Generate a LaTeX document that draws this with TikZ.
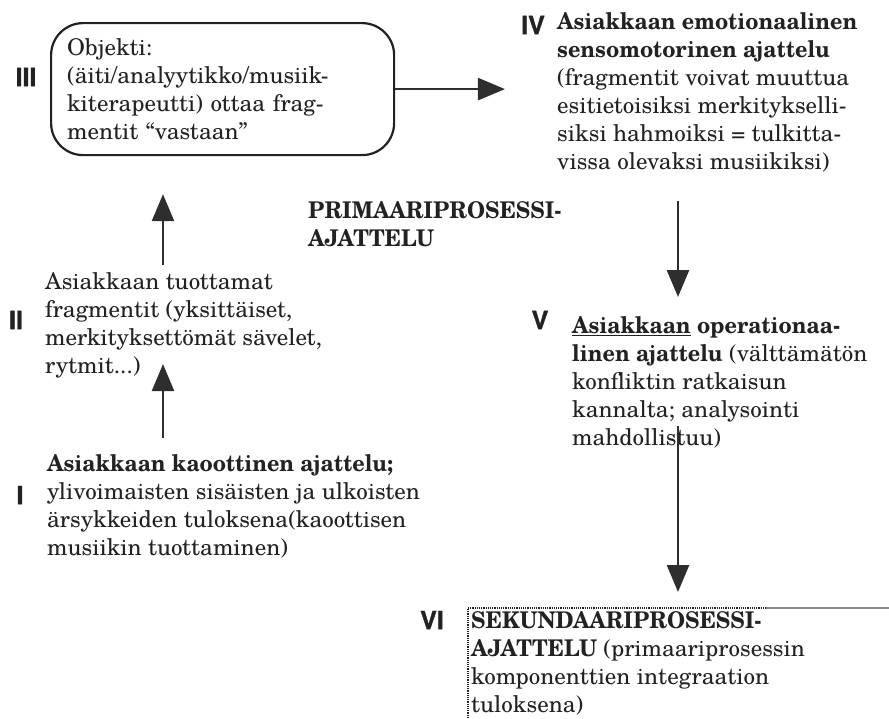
\documentclass[tikz,border=0pt]{standalone}
\usepackage{fontspec}
\setmainfont{texgyreschola}[Extension=.otf, UprightFont=*-regular, BoldFont=*-bold,
  ItalicFont=*-italic, BoldItalicFont=*-bolditalic, BoldFeatures={FakeStretch=0.94}]
\newfontfamily\numfont{texgyreheros-bold.otf}[FakeBold=1.2]
\usetikzlibrary{arrows.meta}
\definecolor{ink}{HTML}{222222}
\definecolor{shaft}{HTML}{2E2E2E}
\definecolor{rulegrey}{HTML}{8A8A8A}

\begin{document}
\begin{tikzpicture}[x=1pt,y=-1pt,
  txt/.style={anchor=north west, inner sep=0pt, align=left, text=ink,
    font=\fontsize{23}{28}\selectfont},
  num/.style={inner sep=0pt, text=ink, font=\numfont\fontsize{25}{25}\selectfont},
  flow/.style={draw=shaft, line width=2.6pt, -{Triangle[length=27pt,width=22pt]}},
  objbox/.style={draw=ink, line width=2.2pt, rounded corners=32pt, anchor=north west,
    align=left, text=ink, font=\fontsize{23}{28}\selectfont,
    minimum width=343pt, minimum height=132pt, inner xsep=16pt, text width=311pt},
  vibord/.style={draw=ink, line width=1.6pt, dash pattern=on 1.2pt off 1pt}]
\useasboundingbox (0,0) rectangle (889,718);

% column guides for the vertical arrows
\coordinate (colL) at (163,0);
\coordinate (colR) at (678,0);

% stage numerals
\node[num] (n1) at (20,495) {I};
\node[num] (n2) at (16,320) {II};
\node[num] (n3) at (26,77) {III};
\node[num] (n4) at (533,25) {IV};
\node[num] (n5) at (540,320) {V};
\node[num] (n6) at (432,620) {VI};

% stage III: the object box
\node[objbox] (obj) at (50,22) {Objekti:\\(äiti/analyytikko/musiik-\\kiterapeutti) ottaa frag-\\mentit “vastaan”};

% stage IV
\node[txt] (iv) at (557,12) {\textbf{Asiakkaan emotionaalinen}\\\textbf{sensomotorinen ajattelu}\\(fragmentit voivat muuttua\\esitietoisiksi merkitykselli-\\siksi hahmoiksi = tulkitta-\\vissa olevaksi musiikiksi)};

% middle heading
\node[txt, font=\bfseries\fontsize{23}{28}\selectfont] (prim) at (308,201) {PRIMAARIPROSESSI-\\AJATTELU};

% stage V
\node[txt] (v) at (572,316) {\textbf{\underline{Asiakkaan} operationaa-}\\\textbf{linen ajattelu} (välttämätön\\konfliktin ratkaisun\\kannalta; analysointi\\mahdollistuu)};

% stage II
\node[txt] (ii) at (45,272) {Asiakkaan tuottamat\\fragmentit (yksittäiset,\\merkityksettömät sävelet,\\rytmit...)};

% stage I
\node[txt] (i) at (47,454) {\textbf{Asiakkaan kaoottinen ajattelu;}\\ylivoimaisten sisäisten ja ulkoisten\\ärsykkeiden tuloksena(kaoottisen\\musiikin tuottaminen)};

% stage VI with its open frame
\node[txt] (vi) at (471,611) {\textbf{SEKUNDAARIPROSESSI-}\\\textbf{AJATTELU} (primaariprosessin\\komponenttien integraation\\tuloksena)};
\coordinate (vicorner) at (468,608);
\coordinate (viend) at (766,608);
\coordinate (viright) at (889,608);
\coordinate (vibottom) at (468,718);
\draw[vibord] (vibottom) -- (vicorner) -- (viend);
\draw[rulegrey, line width=1.2pt] (viend) -- (viright);

% arrows
\draw[flow, shorten <=16pt, shorten >=-14pt] (i.north -| colL) -- (ii.south -| colL);
\draw[flow, shorten <=7pt, shorten >=38pt] (ii.north -| colL) -- (obj.south -| colL);
\draw[flow, shorten >=16pt] (obj.east) -- (n4.west |- obj.east);
\draw[flow, shorten <=29pt, shorten >=19pt] (iv.south -| colR) -- (v.north -| colR);
\draw[flow, shorten <=-22pt, shorten >=19pt] (v.south -| colR) -- (vi.north -| colR);
\end{tikzpicture}
\end{document}
